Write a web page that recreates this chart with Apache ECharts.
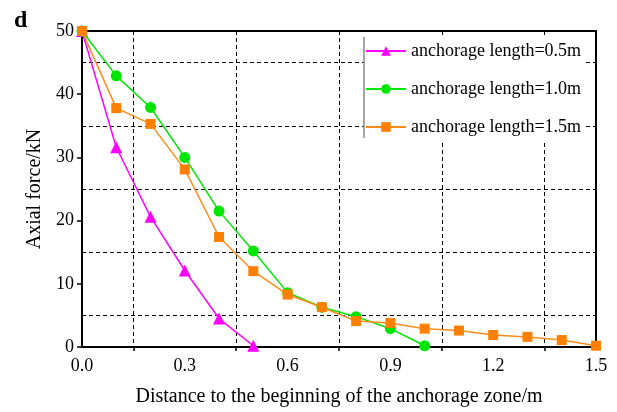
<!DOCTYPE html>
<html>
<head>
<meta charset="utf-8">
<script src="https://cdn.jsdelivr.net/npm/echarts@6/dist/echarts.min.js"></script>
<style>
  html, body { margin: 0; padding: 0; background: #fff; }
  #chart { width: 617px; height: 412px; }
</style>
</head>
<body>
<div id="chart"></div>
<script>
// distances along anchorage zone (m)
const dist05 = [0, 0.1, 0.2, 0.3, 0.4, 0.5]
const dist10 = [0, 0.1, 0.2, 0.3, 0.4, 0.5, 0.6, 0.7, 0.8, 0.9, 1.0]
const dist15 = [0, 0.1, 0.2, 0.3, 0.4, 0.5, 0.6, 0.7, 0.8, 0.9, 1.0, 1.1, 1.2, 1.3, 1.4, 1.5]

// axial force (kN)
const force05 = [50, 31.6, 20.6, 12.1, 4.5, 0.2]
const force10 = [50, 42.9, 37.9, 30.0, 21.5, 15.2, 8.6, 6.3, 4.8, 2.9, 0.2]
const force15 = [50, 37.8, 35.3, 28.1, 17.4, 12.0, 8.3, 6.3, 4.1, 3.8, 2.9, 2.6, 1.9, 1.6, 1.1, 0.2]

const seriesNames = ['anchorage length=0.5m', 'anchorage length=1.0m', 'anchorage length=1.5m']
const xTicks = [0, 0.3, 0.6, 0.9, 1.2, 1.5]
const yTicks = [0, 10, 20, 30, 40, 50]

const font = '"Liberation Serif", "Times New Roman", serif'
const pair = (xs, ys) => xs.map((x, i) => [x, ys[i]])

const chart = echarts.init(document.getElementById('chart'))

const dashed = { color: '#000', type: [4, 3], width: 1 }

const option = {
  backgroundColor: '#fff',
  animation: false,
  title: {
    text: 'd',
    left: 9,
    top: 4,
    textStyle: { fontFamily: font, fontSize: 24, fontWeight: 'bold', color: '#000' },
  },
  grid: {
    left: 82,
    right: 21,
    top: 31,
    bottom: 65,
    show: true,
    borderColor: '#000',
    borderWidth: 2,
    backgroundColor: 'transparent',
  },
  legend: {
    orient: 'vertical',
    left: 364,
    top: 37,
    padding: [5, 4, 4, 1],
    backgroundColor: '#fff',
    itemWidth: 40,
    itemHeight: 12,
    itemGap: 20,
    textStyle: { fontFamily: font, fontSize: 18, color: '#000' },
    data: seriesNames,
  },
  graphic: [
    {
      type: 'line',
      z: 10,
      shape: { x1: 364, y1: 37, x2: 364, y2: 138 },
      style: { stroke: '#888', lineWidth: 1.5 },
    },
  ],
  xAxis: {
    type: 'value',
    min: xTicks[0],
    max: xTicks[xTicks.length - 1],
    interval: 0.3,
    name: 'Distance to the beginning of the anchorage zone/m',
    nameLocation: 'middle',
    nameGap: 40,
    nameTextStyle: { fontFamily: font, fontSize: 20, color: '#000' },
    axisLine: { lineStyle: { color: '#000', width: 2 } },
    axisTick: { show: false },
    axisLabel: {
      fontFamily: font,
      fontSize: 18,
      color: '#000',
      margin: 10,
      formatter: (v) => v.toFixed(1),
    },
    splitLine: { show: false },
    minorTick: { show: true, splitNumber: 2, length: 4, lineStyle: { color: '#000', width: 1.5 } },
    minorSplitLine: { show: true, lineStyle: dashed },
  },
  yAxis: {
    type: 'value',
    min: yTicks[0],
    max: yTicks[yTicks.length - 1],
    interval: 10,
    name: 'Axial force/kN',
    nameLocation: 'middle',
    nameGap: 28,
    nameTextStyle: { fontFamily: font, fontSize: 20, color: '#000' },
    axisLine: { show: true, lineStyle: { color: '#000', width: 2 } },
    axisTick: { show: true, inside: false, length: 5, lineStyle: { color: '#000', width: 1.5 } },
    axisLabel: { fontFamily: font, fontSize: 18, color: '#000', margin: 8 },
    splitLine: { show: false },
    minorTick: { show: false, splitNumber: 2 },
    minorSplitLine: { show: true, lineStyle: dashed },
  },
  series: [
    {
      name: seriesNames[0],
      type: 'line',
      data: pair(dist05, force05),
      symbol: 'triangle',
      symbolSize: 12,
      color: '#ff00ff',
      lineStyle: { width: 1.5, color: '#ff00ff' },
      z: 3,
    },
    {
      name: seriesNames[1],
      type: 'line',
      data: pair(dist10, force10),
      symbol: 'circle',
      symbolSize: 11,
      color: '#00e600',
      lineStyle: { width: 1.5, color: '#00e600' },
      z: 4,
    },
    {
      name: seriesNames[2],
      type: 'line',
      data: pair(dist15, force15),
      symbol: 'rect',
      symbolSize: 10,
      color: '#ff7f00',
      lineStyle: { width: 1.5, color: '#ff8c1a' },
      z: 5,
    },
  ],
}

chart.setOption(option)
</script>
</body>
</html>
